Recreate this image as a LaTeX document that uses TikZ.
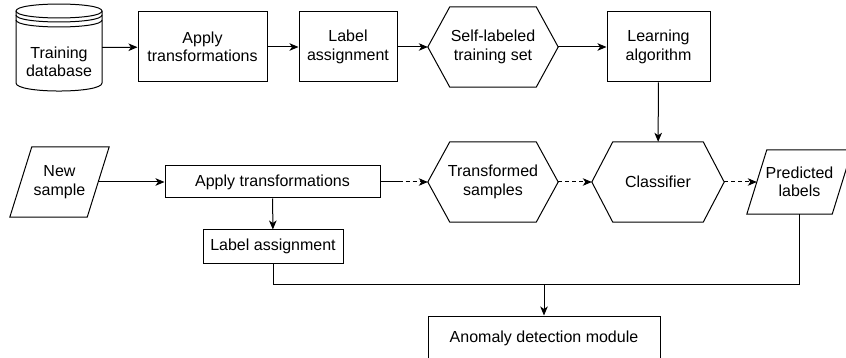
\documentclass[tikz,border=0pt]{standalone}
\usepackage{fontspec}
\setmainfont{Liberation Sans}
\usetikzlibrary{arrows.meta,calc}

% hexagon outline around a (borderless) node, #2 = inset of the side points
\newcommand{\hexframe}[2]{%
  \draw[shapeline] (#1.west) -- ($(#1.north west)+(#2,0)$) -- ($(#1.north east)+(-#2,0)$)
    -- (#1.east) -- ($(#1.south east)+(-#2,0)$) -- ($(#1.south west)+(#2,0)$) -- cycle;}
% parallelogram outline around a (borderless) node, #2 = horizontal slant
\newcommand{\paraframe}[2]{%
  \draw[shapeline] (#1.south west) -- ($(#1.north west)+(#2,0)$) -- (#1.north east)
    -- ($(#1.south east)+(-#2,0)$) -- cycle;}

\begin{document}
\begin{tikzpicture}[x=1pt,y=-1pt,
  every node/.style={font=\fontsize{16}{18.5}\selectfont, align=center, inner sep=0pt},
  shapeline/.style={draw=black, line width=1pt, line join=miter},
  box/.style={draw=black, line width=1pt, fill=white},
  holder/.style={},
  conn/.style={line width=1pt, -{Stealth[length=9pt,width=7.5pt,inset=2.5pt]}},
  plainconn/.style={line width=1pt},
  dashconn/.style={conn, dash pattern=on 4pt off 3pt},
]
\useasboundingbox (0,0) rectangle (846,358);

% ---------------- training pipeline ----------------
% database cylinder
\node[holder, minimum width=86pt, minimum height=87pt] (db) at (59,47.5) {};
\draw[shapeline] (16,11) -- (16,83) .. controls (16,93.7) and (102,93.7) .. (102,83) -- (102,11);
\draw[shapeline] (16,11) .. controls (16,1.7) and (102,1.7) .. (102,11)
                          .. controls (102,20.3) and (16,20.3) .. (16,11);
\draw[shapeline] (16,15) .. controls (16,24.3) and (102,24.3) .. (102,15);
\draw[shapeline] (16,20) .. controls (16,29.3) and (102,29.3) .. (102,20);
\node (dbtext) at (59,62) {Training\\database};

\node[box, minimum width=129pt, minimum height=70pt] (applyA) at (202.5,47) {Apply\\transformations};
\node[box, minimum width=98pt, minimum height=70pt] (labelA) at (348,47) {Label\\assignment};
\node[holder, minimum width=130pt, minimum height=80pt] (selfset) at (493,47) {Self-labeled\\training set};
\hexframe{selfset}{22}
\node[box, minimum width=103pt, minimum height=70pt] (learn) at (658.5,47) {Learning\\algorithm};

% ---------------- test pipeline ----------------
\node[holder, minimum width=99pt, minimum height=70pt] (newsample) at (59.5,182) {New\\sample};
\paraframe{newsample}{22}
\node[box, minimum width=215pt, minimum height=32pt] (applyB) at (272.5,182) {Apply transformations};
\node[box, minimum width=140pt, minimum height=33pt] (labelB) at (273,246.5) {Label assignment};
\node[holder, minimum width=130pt, minimum height=80pt] (tsamples) at (493,182) {Transformed\\samples};
\hexframe{tsamples}{22}
\node[holder, minimum width=132pt, minimum height=80pt] (classifier) at (658,182) {Classifier};
\hexframe{classifier}{21}
\node[holder, minimum width=105pt, minimum height=64pt] (predicted) at (799.5,182) {Predicted\\labels};
\paraframe{predicted}{20}
\node[box, minimum width=232pt, minimum height=44pt] (anomaly) at (544,338) {Anomaly detection module};

% connector end points on slanted sides and the merge point
\coordinate (nsout) at ($(newsample.east)+(-11,0)$);
\coordinate (predin) at ($(predicted.west)+(10,0)$);
\coordinate (merge) at (544,284);

% ---------------- connectors ----------------
\draw[conn] (db) -- (applyA);
\draw[conn] (applyA) -- (labelA);
\draw[conn] (labelA) -- (selfset);
\draw[conn] (selfset) -- (learn);
\draw[conn] (learn) -- (classifier);

\draw[conn] (nsout) -- (applyB);
\draw[conn] (applyB) -- (labelB);
\draw[conn, dash pattern=on 22pt off 3pt on 4pt off 3pt on 4pt off 3pt on 20pt] (applyB) -- (tsamples);
\draw[dashconn] (tsamples) -- (classifier);
\draw[dashconn] (classifier) -- (predin);

\draw[plainconn] (labelB.south) |- (merge);
\draw[plainconn] (predicted.south) |- (merge);
\draw[conn] (merge) -- (anomaly.north);
\end{tikzpicture}
\end{document}
